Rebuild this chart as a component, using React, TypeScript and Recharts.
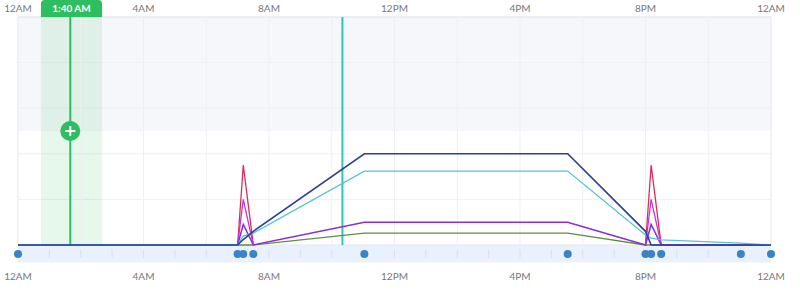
import React from 'react';
import {
  ComposedChart, Line, XAxis, YAxis, CartesianGrid, ReferenceArea, ReferenceLine, ReferenceDot,
} from 'recharts';

// event times in hours since midnight
const hours = [0, 7.0, 7.18, 7.5, 11.04, 17.52, 20.0, 20.18, 20.5, 23.04, 24];

const navy = [0, 0, 0.12, 0.3, 2.0, 2.0, 0.3, 0, 0, 0, 0];
const cyan = [0, 0, 0.2, 0.26, 1.62, 1.62, 0.22, 0.15, 0.11, 0.04, 0];
const purple = [0, 0, 0.45, 0, 0.5, 0.5, 0, 0.45, 0, 0, 0];
const green = [0, 0, 0, 0, 0.26, 0.26, 0, 0, 0, 0, 0];
// spikes only exist around the two bursts
const magenta = [null, 0, 1.0, 0, null, null, 0, 1.0, 0, null, null];
const red = [null, 0, 1.75, 0, null, null, 0, 1.75, 0, null, null];

const tickHours = [0, 4, 8, 12, 16, 20, 24];
const tickLabels = ['12AM', '4AM', '8AM', '12PM', '4PM', '8PM', '12AM'];
const gridHours = [2, 4, 6, 8, 10, 12, 14, 16, 18, 20, 22];
const stripHours = [1, 2, 3, 4, 5, 6, 7, 8, 9, 10, 11, 12, 13, 14, 15, 16, 17, 18, 19, 20, 21, 22, 23];

const selectedHour = 1 + 40 / 60;
const selectedLabel = '1:40 AM';
const selectStart = 0.73;
const selectEnd = 2.68;
const nowHour = 10.34;

const EVENT_TRACK = -0.2;
const Y_MIN = -0.373;
const Y_MAX = 5;
const SHADE_FROM = 2.5;

const data = hours.map((t, i) => ({
  t,
  navy: navy[i],
  cyan: cyan[i],
  purple: purple[i],
  green: green[i],
  magenta: magenta[i],
  red: red[i],
  event: EVENT_TRACK,
}));

const fmt = (v: number) => tickLabels[tickHours.indexOf(v)] ?? '';

const GREEN = '#2ebd5f';

const SelectionLabel = (props: any) => {
  const vb = props.viewBox || {};
  const { x, y, width } = vb;
  if (x == null) return null;
  const h = 17;
  const r = 4;
  const top = y - h;
  const d = `M${x},${y} L${x},${top + r} Q${x},${top} ${x + r},${top} L${x + width - r},${top} Q${x + width},${top} ${x + width},${top + r} L${x + width},${y} Z`;
  return (
    <g>
      <path d={d} fill={GREEN} />
      <text x={x + width / 2} y={top + 12} textAnchor="middle" fill="#fff" fontSize={10} fontWeight={700}>
        {selectedLabel}
      </text>
    </g>
  );
};

const PlusButton = (props: any) => {
  const { cx, cy } = props;
  return (
    <g>
      <circle cx={cx} cy={cy} r={10} fill={GREEN} />
      <path d={`M${cx - 5},${cy} L${cx + 5},${cy} M${cx},${cy - 5} L${cx},${cy + 5}`} stroke="#fff" strokeWidth={2} />
    </g>
  );
};

export default function App() {
  return (
    <div style={{ position: 'absolute', left: 0, top: 0, width: 800, height: 290, background: '#fff', fontFamily: 'Lato, sans-serif' }}>
      <ComposedChart width={800} height={290} data={data} margin={{ top: 0, right: 29, bottom: 0, left: 18 }}>
        <XAxis
          xAxisId="top"
          orientation="top"
          dataKey="t"
          type="number"
          domain={[0, 24]}
          ticks={tickHours}
          tickFormatter={fmt}
          height={17}
          axisLine={false}
          tickLine={false}
          tickSize={0}
          tickMargin={5}
          tick={{ fontSize: 10, fill: '#777' }}
          interval={0}
        />
        <XAxis
          dataKey="t"
          type="number"
          domain={[0, 24]}
          ticks={tickHours}
          tickFormatter={fmt}
          height={28}
          axisLine={false}
          tickLine={false}
          tickSize={0}
          tickMargin={11}
          tick={{ fontSize: 10, fill: '#777' }}
          interval={0}
        />
        <YAxis hide type="number" domain={[Y_MIN, Y_MAX]} ticks={[1, 2, 3, 4]} allowDataOverflow />
        <CartesianGrid vertical={false} stroke="#edf0f3" />
        <ReferenceArea x1={0} x2={24} y1={SHADE_FROM} y2={Y_MAX} fill="#eef1f5" fillOpacity={0.55} stroke="none" />
        <ReferenceArea x1={0} x2={24} y1={Y_MIN} y2={0} fill="#e8f1fc" fillOpacity={1} stroke="none" />
        {gridHours.map((h) => (
          <ReferenceLine key={'g' + h} segment={[{ x: h, y: 0 }, { x: h, y: Y_MAX }]} stroke="#edf0f3" />
        ))}
        {stripHours.map((h) => (
          <ReferenceLine key={'s' + h} segment={[{ x: h, y: -0.1 }, { x: h, y: -0.28 }]} stroke="#d6e2ef" />
        ))}
        <ReferenceArea x1={0} x2={24} y1={0} y2={Y_MAX} fill="none" stroke="#e3e7ec" />
        <ReferenceArea
          x1={selectStart}
          x2={selectEnd}
          y1={0}
          y2={Y_MAX}
          fill={GREEN}
          fillOpacity={0.12}
          stroke="none"
          label={<SelectionLabel />}
        />
        <ReferenceLine segment={[{ x: selectedHour, y: 0 }, { x: selectedHour, y: Y_MAX }]} stroke={GREEN} strokeWidth={2} />
        <ReferenceDot x={selectedHour} y={SHADE_FROM} r={10} shape={<PlusButton />} />
        <ReferenceLine segment={[{ x: nowHour, y: 0 }, { x: nowHour, y: Y_MAX }]} stroke="#2ec4b6" strokeWidth={2} />
        <Line dataKey="green" type="linear" stroke="#5e8f45" strokeWidth={1.3} dot={false} isAnimationActive={false} />
        <Line dataKey="red" type="linear" stroke="#dc2a5f" strokeWidth={1.3} dot={false} isAnimationActive={false} />
        <Line dataKey="magenta" type="linear" stroke="#b93ccf" strokeWidth={1.3} dot={false} isAnimationActive={false} />
        <Line dataKey="purple" type="linear" stroke="#8a2fd8" strokeWidth={1.5} dot={false} isAnimationActive={false} />
        <Line dataKey="cyan" type="linear" stroke="#56c2d3" strokeWidth={1.3} dot={false} isAnimationActive={false} />
        <Line dataKey="navy" type="linear" stroke="#2c3f99" strokeWidth={1.6} dot={false} isAnimationActive={false} />
        <Line
          dataKey="event"
          type="linear"
          stroke="none"
          dot={{ r: 4, fill: '#3a84c6', stroke: 'none' }}
          isAnimationActive={false}
        />
      </ComposedChart>
    </div>
  );
}
